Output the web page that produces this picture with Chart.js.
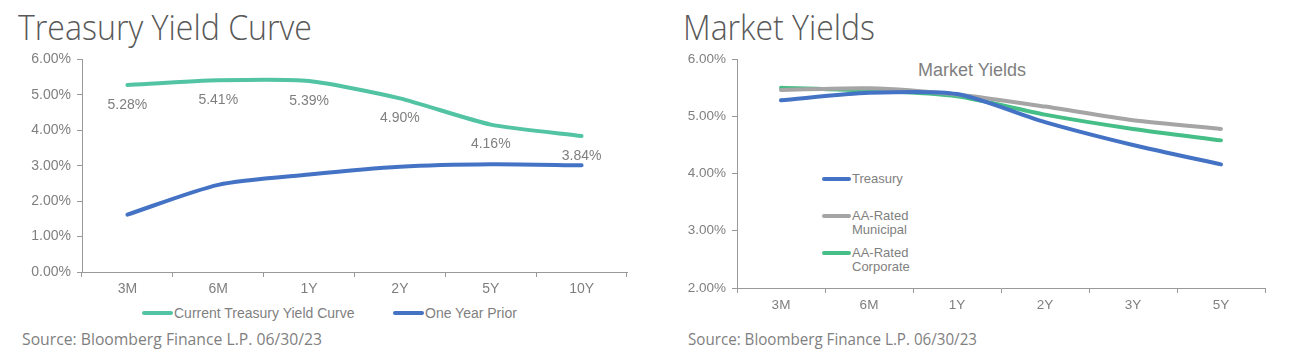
<!DOCTYPE html>
<html>
<head>
<meta charset="utf-8">
<script src="https://cdn.jsdelivr.net/npm/chart.js@4.4.1/dist/chart.umd.min.js"></script>
<style>
  html, body { margin: 0; padding: 0; background: #fff; }
  body { width: 1300px; height: 359px; position: relative; overflow: hidden; }
  .t { position: absolute; white-space: nowrap; transform-origin: 0 0; }
  .title { font-family: "Open Sans", "Liberation Sans", sans-serif; font-weight: 300; font-size: 34px; color: #595959; line-height: 1; }
  .src { font-family: "Open Sans", "Liberation Sans", sans-serif; font-size: 16px; color: #7f7f7f; line-height: 1; }
  .lg { font-family: "Liberation Sans", Arial, sans-serif; font-size: 13px; color: #7f7f7f; line-height: 14.5px; position: absolute; white-space: nowrap; }
  .lgline { position: absolute; height: 4px; border-radius: 2px; }
  canvas { position: absolute; }
</style>
</head>
<body>
<div class="t title" id="t1" data-w="294" style="left:18px; top:10px;">Treasury Yield Curve</div>
<div class="t title" id="t2" data-w="192" style="left:683px; top:10px;">Market Yields</div>
<div class="t src" id="s1" data-w="300" style="left:22px; top:331px;">Source: Bloomberg Finance L.P. 06/30/23</div>
<div class="t src" id="s2" data-w="289" style="left:688px; top:331px;">Source: Bloomberg Finance L.P. 06/30/23</div>
<div class="t lg" id="innerTitle" style="left:918px; top:63px; font-size:18px;">Market Yields</div>
<div id="leftLegend"></div>
<div id="rightLegend"></div>

<canvas id="c1" width="650" height="254" style="left:0; top:45px; width:650px; height:254px;"></canvas>
<canvas id="c2" width="650" height="270" style="left:650px; top:45px; width:650px; height:270px;"></canvas>

<script>
// ---------------- DATA ----------------
const curveTenors = ['3M', '6M', '1Y', '2Y', '5Y', '10Y'];
const currentCurve = [5.28, 5.41, 5.39, 4.90, 4.16, 3.84];
const priorYearCurve = [1.62, 2.46, 2.75, 2.97, 3.04, 3.01];
const curveSeriesNames = ['Current Treasury Yield Curve', 'One Year Prior'];

const marketTenors = ['3M', '6M', '1Y', '2Y', '3Y', '5Y'];
const treasuryYields = [5.28, 5.41, 5.39, 4.90, 4.50, 4.16];
const municipalYields = [5.46, 5.49, 5.38, 5.17, 4.93, 4.78];
const corporateYields = [5.50, 5.45, 5.35, 5.03, 4.78, 4.58];
const marketSeriesNames = ['Treasury', 'AA-Rated\nMunicipal', 'AA-Rated\nCorporate'];

// ---------------- STYLES ----------------
const GREEN_L = '#52C3A3';
const BLUE = '#4472C4';
const GRAY = '#A5A5A5';
const GREEN_R = '#46BE87';
const TICK = '#7f7f7f';
const AXIS = '#999999';
const FONT = '"Liberation Sans", Arial, sans-serif';

// fit text widths of the HTML labels
document.querySelectorAll('.t[data-w]').forEach(el => {
  const w = el.getBoundingClientRect().width;
  const target = parseFloat(el.dataset.w);
  if (w > 0) el.style.transform = 'scaleX(' + (target / w) + ')';
});

const pct = v => v.toFixed(2) + '%';

const dataLabelPlugin = {
  id: 'dataLabels',
  afterDatasetsDraw(chart) {
    const meta = chart.getDatasetMeta(0);
    const ctx = chart.ctx;
    ctx.save();
    ctx.font = '14px ' + FONT;
    ctx.fillStyle = TICK;
    ctx.textAlign = 'center';
    ctx.textBaseline = 'middle';
    meta.data.forEach((pt, i) => {
      ctx.fillText(pct(chart.data.datasets[0].data[i]), pt.x, pt.y + 20);
    });
    ctx.restore();
  }
};

function axisX(fontSize) {
  return {
    offset: true,
    grid: { display: true, drawOnChartArea: false, drawTicks: true, tickLength: 5, color: AXIS, offset: true },
    border: { display: true, color: AXIS, width: 1 },
    ticks: { color: TICK, font: { family: FONT, size: fontSize }, padding: 4, maxRotation: 0, autoSkip: false },
    afterFit(s) { s.height = 27; }
  };
}

// ---------------- LEFT CHART ----------------
const leftChart = new Chart(document.getElementById('c1'), {
  type: 'line',
  data: {
    labels: curveTenors,
    datasets: [
      { label: curveSeriesNames[0], data: currentCurve, borderColor: GREEN_L, borderWidth: 4, pointRadius: 0, tension: 0.2, borderCapStyle: 'round' },
      { label: curveSeriesNames[1], data: priorYearCurve, borderColor: BLUE, borderWidth: 4, pointRadius: 0, tension: 0.25, borderCapStyle: 'round' }
    ]
  },
  options: {
    responsive: false,
    animation: false,
    layout: { padding: { top: 13, right: 23, left: 0, bottom: 0 } },
    plugins: { tooltip: { enabled: false }, legend: { display: false } },
    scales: {
      x: axisX(14),
      y: {
        min: 0, max: 6,
        grid: { display: true, drawOnChartArea: false, drawTicks: true, tickLength: 5, color: AXIS },
        border: { display: true, color: AXIS, width: 1 },
        ticks: { stepSize: 1, color: TICK, font: { family: FONT, size: 14 }, padding: 6, callback: v => pct(v) },
        afterFit(s) { s.width = 82; }
      }
    }
  },
  plugins: [dataLabelPlugin]
});

// ---------------- RIGHT CHART ----------------
const rightChart = new Chart(document.getElementById('c2'), {
  type: 'line',
  data: {
    labels: marketTenors,
    datasets: [
      { label: marketSeriesNames[0], data: treasuryYields, borderColor: BLUE, borderWidth: 4, pointRadius: 0, tension: 0.25, borderCapStyle: 'round' },
      { label: marketSeriesNames[1], data: municipalYields, borderColor: GRAY, borderWidth: 4, pointRadius: 0, tension: 0.25, borderCapStyle: 'round' },
      { label: marketSeriesNames[2], data: corporateYields, borderColor: GREEN_R, borderWidth: 4, pointRadius: 0, tension: 0.25, borderCapStyle: 'round' }
    ]
  },
  options: {
    responsive: false,
    animation: false,
    layout: { padding: { top: 14, right: 35, left: 0, bottom: 0 } },
    plugins: { tooltip: { enabled: false }, legend: { display: false } },
    scales: {
      x: axisX(13.5),
      y: {
        min: 2, max: 6,
        grid: { display: true, drawOnChartArea: false, drawTicks: true, tickLength: 5, color: AXIS },
        border: { display: true, color: AXIS, width: 1 },
        ticks: { stepSize: 1, color: TICK, font: { family: FONT, size: 13.5 }, padding: 6, callback: v => pct(v) },
        afterFit(s) { s.width = 87; }
      }
    }
  }
});

// HTML legends built from each chart's datasets
function buildLegend(hostId, chart, items, lineW, fontSize) {
  const host = document.getElementById(hostId);
  chart.data.datasets.forEach((d, i) => {
    const it = items[i];
    const line = document.createElement('div');
    line.className = 'lgline';
    line.style.background = d.borderColor;
    line.style.width = lineW + 'px';
    line.style.left = it.x + 'px';
    line.style.top = (it.y - 2) + 'px';
    host.appendChild(line);
    const txt = document.createElement('div');
    txt.className = 'lg';
    txt.style.fontSize = fontSize + 'px';
    txt.style.left = (it.x + lineW + 1) + 'px';
    txt.style.top = (it.y - 7.5) + 'px';
    txt.innerHTML = d.label.split('\n').join('<br>');
    host.appendChild(txt);
  });
}
buildLegend('leftLegend', leftChart, [{ x: 142, y: 313 }, { x: 393, y: 313 }], 31, 14);
buildLegend('rightLegend', rightChart, [{ x: 822, y: 179 }, { x: 822, y: 216 }, { x: 822, y: 253 }], 29, 13);
</script>
</body>
</html>
